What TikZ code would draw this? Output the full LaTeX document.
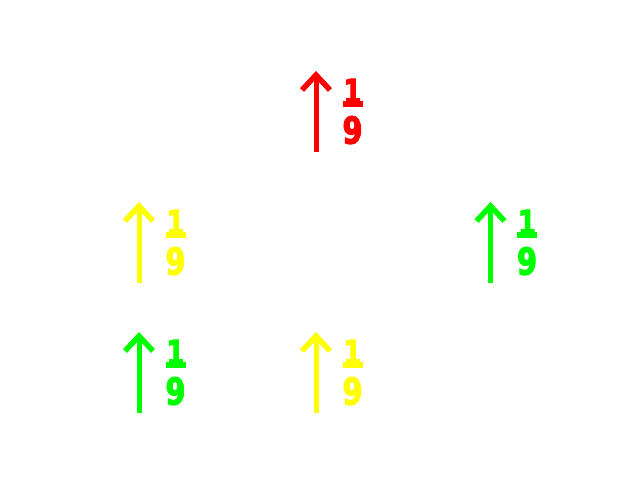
\documentclass[tikz,border=0pt]{standalone}
\usepackage{fontspec}
\newfontfamily\digitfont{DejaVu Sans Bold}[FakeBold=3.5]
\definecolor{cred}{RGB}{255,0,0}
\definecolor{cyel}{RGB}{255,255,0}
\definecolor{cgrn}{RGB}{0,255,0}
\tikzset{
  upshaft/.style={line width=5pt},
  uphead/.style={line width=5.5pt, line join=miter},
  numdigit/.style={inner sep=0pt, anchor=base, font=\digitfont\fontsize{33}{33}\selectfont},
  dendigit/.style={inner sep=0pt, anchor=base, font=\digitfont\fontsize{37}{37}\selectfont},
  fracbar/.style={line width=6pt},
}
\newcommand{\sqdigit}[1]{\scalebox{0.78}[1]{#1}}
\newcommand{\fracarrow}[4]{%
  % #1 name, #2 X, #3 T, #4 colour
  \coordinate (#1-top) at (#2,#3+3);
  \coordinate (#1-bot) at (#2,#3+80);
  \draw[upshaft,#4] (#1-bot) -- (#1-top);
  \draw[uphead,#4] (#2-14,#3+18) -- (#1-top) -- (#2+14,#3+18);
  \node[numdigit,text=#4] (#1-num) at (#2+36.5,#3+31) {\sqdigit{1}};
  \coordinate (#1-barl) at (#2+26.5,#3+32);
  \coordinate (#1-barr) at (#2+46.5,#3+32);
  \draw[fracbar,#4] (#1-barl) -- (#1-barr);
  \node[dendigit,text=#4] (#1-den) at (#2+36.5,#3+71.5) {\sqdigit{9}};
}
\begin{document}
\begin{tikzpicture}[x=1pt,y=-1pt]
\useasboundingbox (0,0) rectangle (640,480);
\fracarrow{a}{316}{72}{cred}
\fracarrow{b}{139}{203}{cyel}
\fracarrow{c}{490.5}{203}{cgrn}
\fracarrow{d}{139}{333}{cgrn}
\fracarrow{e}{316}{333}{cyel}
\end{tikzpicture}
\end{document}
